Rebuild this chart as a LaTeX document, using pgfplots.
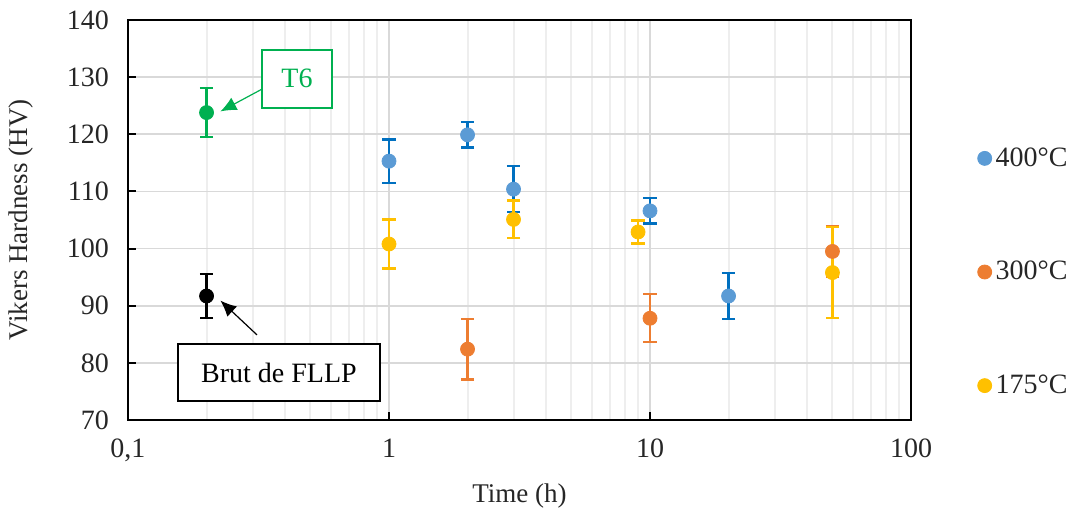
\documentclass[border=0pt]{standalone}
\usepackage{pgfplots}
\pgfplotsset{compat=1.18}
\usetikzlibrary{arrows.meta}
\usepackage{fontspec}
\setmainfont{Liberation Serif}
\definecolor{cBlue}{HTML}{5B9BD5}
\definecolor{cBlueE}{HTML}{0070C0}
\definecolor{cOrange}{HTML}{ED7D31}
\definecolor{cYellow}{HTML}{FFC000}
\definecolor{cGreen}{HTML}{00B050}
\definecolor{cGrid}{HTML}{D9D9D9}
\definecolor{cGridMinor}{HTML}{EEEEEE}
\definecolor{cText}{HTML}{262626}
\begin{document}
\begin{tikzpicture}
\begin{axis}[
  scale only axis, width=391.5pt, height=200pt,
  xmode=log, xmin=0.1, xmax=100, ymin=70, ymax=140,
  xtick={0.1,1,10,100}, xticklabels={{0,1},1,10,100},
  ytick={70,80,...,140},
  /pgf/number format/assume math mode=true,
  yticklabel={\pgfmathprintnumber{\tick}},
  font=\fontsize{13.5}{15}\selectfont,
  tick label style={color=cText, font=\fontsize{14}{16}\selectfont},
  xticklabel style={yshift=-6pt},
  yticklabel style={xshift=-6pt},
  xmajorgrids=true, xminorgrids=true, ymajorgrids=true,
  major grid style={draw=cGrid, line width=0.9pt},
  minor grid style={draw=cGridMinor, line width=1pt},
  minor tick length=0pt, major tick length=4pt,
  tick style={black, line width=1pt},
  axis line style={black, line width=1pt},
  tick align=inside,
  xtick pos=bottom, ytick pos=left,
  xlabel={Time (h)}, ylabel={Vikers Hardness (HV)},
  xlabel style={at={(axis description cs:0.5,-0.19)}, anchor=center, color=cText},
  ylabel style={at={(axis description cs:-0.137,0.5)}, anchor=center, color=cText},
  legend style={at={(1.077,0.37)}, anchor=west, draw=none, fill=none,
    row sep=42pt, font=\fontsize{14}{16}\selectfont, text=cText},
  legend cell align=left,
  clip=false,
]
% T6
\addplot[only marks, mark=*, mark size=3.5pt, color=cGreen, forget plot,
  error bars/.cd, y dir=both, y explicit,
  error bar style={line width=1.1pt, cGreen},
  error mark options={rotate=90, mark size=3.3pt, line width=1.1pt, cGreen}]
  table[x=x, y=y, y error=e] {
x y e
0.2 123.8 4.3
};
% Brut
\addplot[only marks, mark=*, mark size=3.5pt, color=black, forget plot,
  error bars/.cd, y dir=both, y explicit,
  error bar style={line width=1.1pt, black},
  error mark options={rotate=90, mark size=3.3pt, line width=1.1pt, black}]
  table[x=x, y=y, y error=e] {
x y e
0.2 91.7 3.8
};
% 400
\addplot[only marks, mark=*, mark size=3.5pt, color=cBlue,
  error bars/.cd, y dir=both, y explicit,
  error bar style={line width=1.1pt, cBlueE},
  error mark options={rotate=90, mark size=3.3pt, line width=1.1pt, cBlueE}]
  table[x=x, y=y, y error=e] {
x y e
1 115.3 3.8
2 119.9 2.2
3 110.4 4.0
10 106.6 2.2
20 91.7 4.0
};
\addlegendentry{400°C}
% 300
\addplot[only marks, mark=*, mark size=3.5pt, color=cOrange,
  error bars/.cd, y dir=both, y explicit,
  error bar style={line width=1.1pt, cOrange},
  error mark options={rotate=90, mark size=3.3pt, line width=1.1pt, cOrange}]
  table[x=x, y=y, y error=e] {
x y e
2 82.4 5.3
10 87.8 4.2
50 99.5 4.5
};
\addlegendentry{300°C}
% 175
\addplot[only marks, mark=*, mark size=3.5pt, color=cYellow,
  error bars/.cd, y dir=both, y explicit,
  error bar style={line width=1.1pt, cYellow},
  error mark options={rotate=90, mark size=3.3pt, line width=1.1pt, cYellow}]
  table[x=x, y=y, y error=e] {
x y e
1 100.8 4.3
3 105.1 3.3
9 102.9 2.0
50 95.8 8.0
};
\addlegendentry{175°C}
% annotations
\node[draw=cGreen, line width=1pt, minimum width=35pt, minimum height=29pt,
  text=cGreen, font=\fontsize{14}{16}\selectfont, fill=white]
  at (axis cs:0.444,129.7) {T6};
\draw[-{Latex[length=8pt,width=7pt]}, cGreen, line width=0.6pt] (axis cs:0.326,127.9) -- (axis cs:0.226,124.0);
\node[draw=black, line width=1pt, minimum width=101pt, minimum height=28.5pt,
  text=black, font=\fontsize{14}{16}\selectfont, fill=white]
  at (axis cs:0.379,78.3) {Brut de FLLP};
\draw[-{Latex[length=8pt,width=7pt]}, black, line width=0.6pt] (axis cs:0.312,84.9) -- (axis cs:0.226,90.9);
\end{axis}
\pgfresetboundingbox
\path (-64pt,-47pt) rectangle (473.5pt,210pt);
\end{tikzpicture}
\end{document}
